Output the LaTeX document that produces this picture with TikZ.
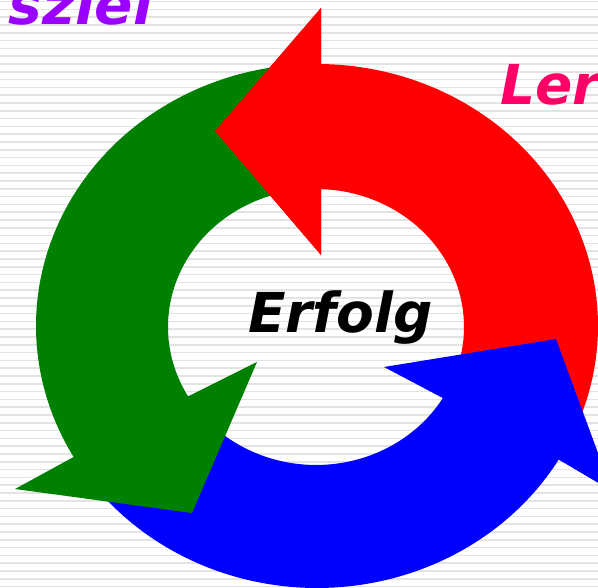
\documentclass[tikz,border=0pt]{standalone}
\usepackage{fontspec}
\setmainfont{DejaVu Sans}
\tikzset{
  stripe/.style={draw=black!11,line width=1.6pt},
  label/.style={inner sep=0pt,font=\fontsize{55}{55}\selectfont\bfseries\itshape},
  arcplot/.style={samples=70,smooth},
}
\definecolor{gr}{RGB}{0,128,0}
\definecolor{lila}{RGB}{153,0,255}
\definecolor{pink}{RGB}{255,0,102}
\begin{document}
\begin{tikzpicture}[x=1pt,y=-1pt]
\useasboundingbox (0,0) rectangle (598,588);
\clip (0,0) rectangle (598,588);
\fill[white] (0,0) rectangle (598,588);
\foreach \k in {0,...,75}{\draw[stripe] (0,{1.6+7.8*\k}) -- (598,{1.6+7.8*\k});}
% red arrow
\fill[red] (215,131) -- (321,8) -- (321,64)
  -- plot[arcplot,domain=-89:30] ({317+281*cos(\x)},{326+262*sin(\x)})
  -- plot[arcplot,domain=30:-88] ({316+148*cos(\x)},{327+138*sin(\x)})
  -- (321,190) -- (321,255) -- cycle;
% blue arrow
\fill[blue] (384,367) -- (556,339) -- (612,491) -- (556,458)
  -- plot[arcplot,domain=30.5:145] ({317+281*cos(\x)},{326+262*sin(\x)})
  -- plot[arcplot,domain=145:31] ({316+148*cos(\x)},{327+138*sin(\x)})
  -- cycle;
% green arrow
\fill[gr] (73.6,457) -- (15,489) -- (192,513) -- (257,362) -- (189,396)
  -- plot[arcplot,domain=150:255] ({316+148*cos(\x)},{327+138*sin(\x)})
  -- plot[arcplot,domain=262:150] ({317+281*cos(\x)},{326+262*sin(\x)})
  -- cycle;
% red head on top
\fill[red] (215,131) -- (321,8) -- (321,255) -- cycle;
\node[label,anchor=base west,text=black] (erfolg) at (248,333) {Erfolg};
\node[label,anchor=base west,text=pink] (ler) at (500,105) {Ler};
\node[label,anchor=base east,text=lila,xscale=1.03] (ziel) at (153,25) {sziel};
\end{tikzpicture}
\end{document}
